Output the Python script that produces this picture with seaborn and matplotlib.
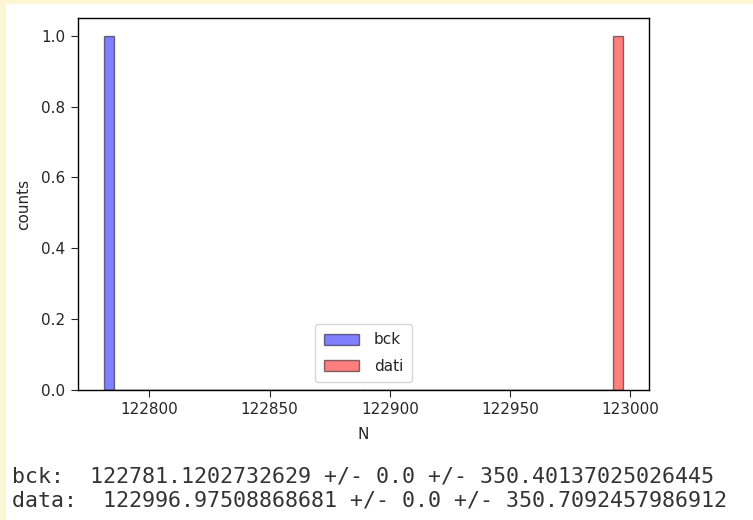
import numpy as np
import pandas as pd
import matplotlib
matplotlib.use("Agg")
import matplotlib.pyplot as plt
from matplotlib.patches import Rectangle
import seaborn as sns

# Event counts for background and data samples
bck_values = [122781.1202732629]
data_values = [122996.97508868681]
bck_err_stat = 0.0
bck_err_sys = 350.40137025026445
data_err_stat = 0.0
data_err_sys = 350.7092457986912
labels = ["bck", "dati"]

sns.set_theme(style="ticks")
plt.rcParams["font.family"] = ["DejaVu Sans"]

fig = plt.figure(figsize=(7.53, 5.2), dpi=100)
fig.patch.set_facecolor("white")
# notebook cell frame
fig.patches.append(Rectangle((0, 0), 6 / 753, 1, transform=fig.transFigure,
                             facecolor="#fcf6d4", edgecolor="none", zorder=-1))
fig.patches.append(Rectangle((0, 1 - 4 / 520), 1, 4 / 520, transform=fig.transFigure,
                             facecolor="#fcf6d4", edgecolor="none", zorder=-1))

ax = fig.add_axes([78 / 753, 1 - 390 / 520, 571 / 753, 372 / 520])

all_vals = np.concatenate([bck_values, data_values])
edges = np.linspace(all_vals.min(), all_vals.max(), 51)

df = pd.DataFrame({"N": bck_values + data_values,
                   "sample": [labels[0]] * len(bck_values) + [labels[1]] * len(data_values)})

edge_rgba = (0, 0, 0, 0.5)
sns.histplot(data=df[df["sample"] == labels[0]], x="N", bins=edges, color="blue",
             alpha=0.5, edgecolor=edge_rgba, linewidth=1.0, label=labels[0], ax=ax)
sns.histplot(data=df[df["sample"] == labels[1]], x="N", bins=edges, color="red",
             alpha=0.5, edgecolor=edge_rgba, linewidth=1.0, label=labels[1], ax=ax)

fs = 11
ax.set_xlabel("N", fontsize=fs, color="#262626", labelpad=7)
ax.set_ylabel("counts", fontsize=fs, color="#262626", labelpad=7)
ax.tick_params(labelsize=fs, length=5, width=0.8, colors="#262626", pad=4)
for s in ax.spines.values():
    s.set_linewidth(1.0)
    s.set_color("black")
ax.set_ylim(0, 1.05)
ax.set_yticks(np.arange(0, 1.01, 0.2))
ax.set_xticks([122800, 122850, 122900, 122950, 123000])
ax.legend(loc="lower center", fontsize=fs, framealpha=0.8,
          labelspacing=0.75, borderpad=0.55, handlelength=2.3, handletextpad=1.0)

fig.text(12 / 753, 1 - 482 / 520,
         f"bck:  {bck_values[0]} +/- {bck_err_stat} +/- {bck_err_sys}",
         family="DejaVu Sans Mono", fontsize=15.6, color="#333333", va="baseline")
fig.text(12 / 753, 1 - 507 / 520,
         f"data:  {data_values[0]} +/- {data_err_stat} +/- {data_err_sys}",
         family="DejaVu Sans Mono", fontsize=15.6, color="#333333", va="baseline")

fig.savefig("out.png", dpi=100, facecolor=fig.get_facecolor())
